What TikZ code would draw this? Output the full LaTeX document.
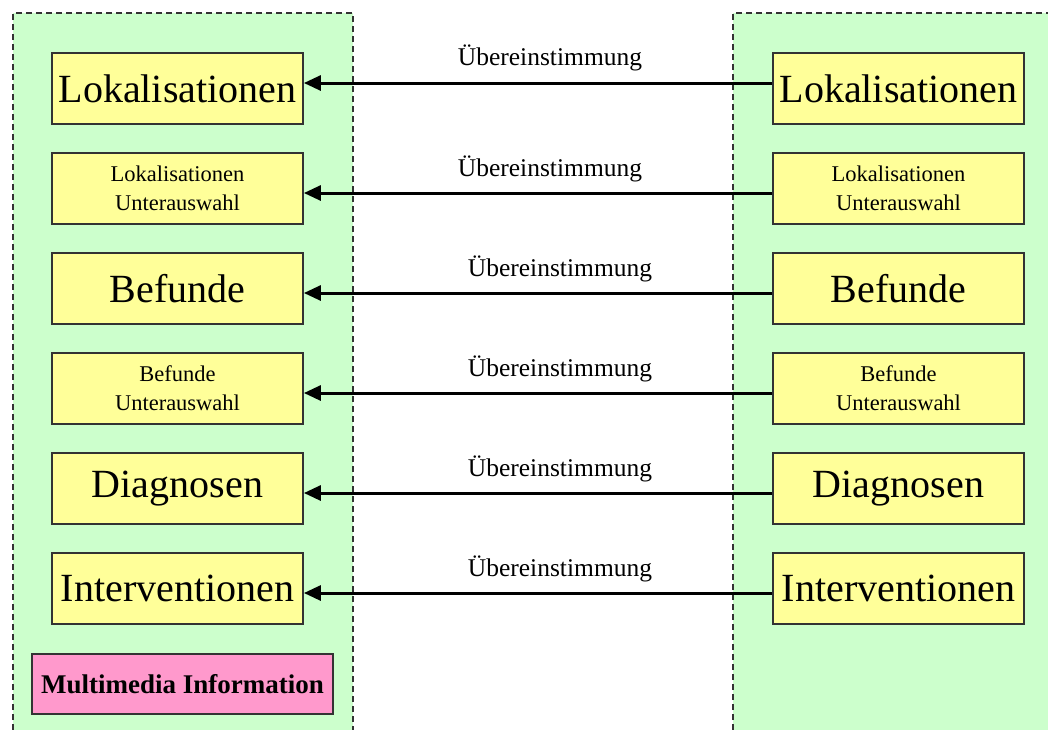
\documentclass[tikz,border=0pt]{standalone}
\usepackage{fontspec}
\setmainfont{Liberation Serif}
\usetikzlibrary{arrows.meta}

\definecolor{panelgreen}{HTML}{CCFFCC}
\definecolor{boxyellow}{HTML}{FFFF99}
\definecolor{boxpink}{HTML}{FF99CC}
\definecolor{edgegray}{HTML}{333333}

\tikzset{
  panel/.style={fill=panelgreen, draw=edgegray, line width=1.4pt, dash pattern=on 6pt off 4pt},
  entry/.style={draw=edgegray, line width=1.8pt, fill=boxyellow, minimum width=251pt,
    minimum height=71pt, inner sep=0pt, align=center},
  bigentry/.style={entry, font=\fontsize{40}{44}\selectfont},
  smallentry/.style={entry, font=\fontsize{22.5}{29}\selectfont},
  mediabox/.style={draw=edgegray, line width=1.8pt, fill=boxpink, minimum width=301pt,
    minimum height=60pt, inner sep=0pt, font=\bfseries\fontsize{27}{30}\selectfont},
  match/.style={-{Triangle[length=17pt,width=15pt]}, line width=3pt, black},
  matchlabel/.style={font=\fontsize{25.5}{28}\selectfont, anchor=base, inner sep=0pt}
}

\begin{document}
\begin{tikzpicture}[x=1pt, y=-1pt]
  \clip (0,0) rectangle (1048,729);
  \fill[white] (0,0) rectangle (1048,729);

  % two dashed group panels, open at the bottom (and right)
  \draw[panel] (13,760) -- (13,13) -- (353,13) -- (353,760);
  \fill[panelgreen] (733,13) rectangle (1080,760);
  \draw[panel, fill=none] (733,760) -- (733,13) -- (1080,13);

  % left column
  \node[bigentry]   (l1) at (177.5, 88.5) {Lokalisationen};
  \node[smallentry] (l2) at (177.5,188.5) {Lokalisationen\\Unterauswahl};
  \node[bigentry]   (l3) at (177.5,288.5) {Befunde};
  \node[smallentry] (l4) at (177.5,388.5) {Befunde\\Unterauswahl};
  \node[bigentry]   (l5) at (177.5,488.5) {Diagnosen};
  \node[bigentry]   (l6) at (177.5,588.5) {Interventionen};
  \node[mediabox]   (mm) at (182.5,684)   {Multimedia Information};

  % right column
  \node[bigentry]   (r1) at (898.5, 88.5) {Lokalisationen};
  \node[smallentry] (r2) at (898.5,188.5) {Lokalisationen\\Unterauswahl};
  \node[bigentry]   (r3) at (898.5,288.5) {Befunde};
  \node[smallentry] (r4) at (898.5,388.5) {Befunde\\Unterauswahl};
  \node[bigentry]   (r5) at (898.5,488.5) {Diagnosen};
  \node[bigentry]   (r6) at (898.5,588.5) {Interventionen};

  % matching connectors with their labels (yshift is in page direction: up is positive)
  \draw[match] ([yshift=5.5pt]r1.west) -- ([yshift=5.5pt]l1.east);
  \node[matchlabel] (t1) at (550,65) {Übereinstimmung};
  \foreach \i/\lx in {2/550,3/560,4/560,5/560,6/560}{
    \draw[match] ([yshift=-4.5pt]r\i.west) -- ([yshift=-4.5pt]l\i.east);
    \node[matchlabel] (t\i) at (\lx,{176.5+100*(\i-2)}) {Übereinstimmung};
  }
\end{tikzpicture}
\end{document}
